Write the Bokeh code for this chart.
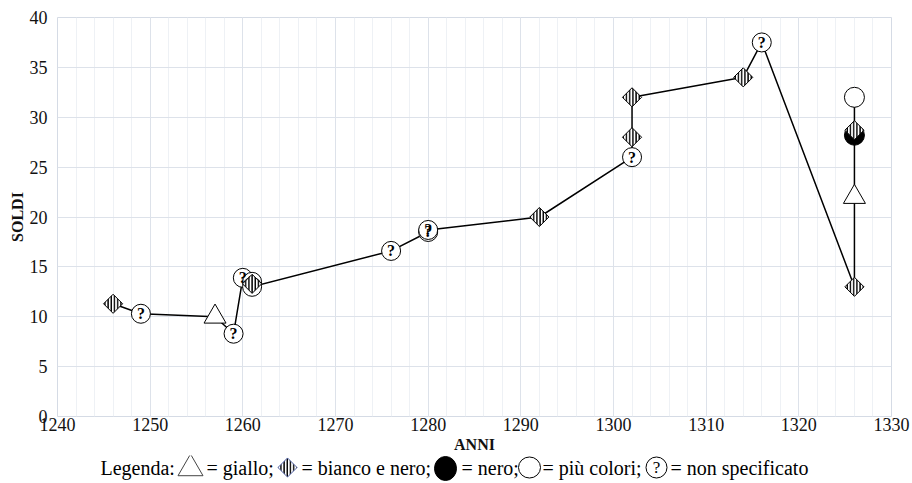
import numpy as np
from bokeh.plotting import figure
from bokeh.layouts import column
from bokeh.models import Range1d, SingleIntervalTicker, ColumnDataSource, CDSView, GroupFilter
from bokeh.core.properties import value
from bokeh.embed import file_html
from bokeh.resources import INLINE

# ---- data ----
anni = [1246, 1249, 1257, 1259, 1260, 1261, 1261, 1261, 1276, 1280, 1280, 1292,
        1302, 1302, 1302, 1314, 1316, 1326, 1326, 1326, 1326, 1326]
soldi = [11.3, 10.3, 10.0, 8.3, 13.9, 13.5, 13.3, 13.0, 16.6, 18.5, 18.7, 20.0,
         26.0, 28.0, 32.0, 34.0, 37.5, 13.0, 22.0, 28.2, 28.7, 32.0]
colore = ["bn", "ns", "giallo", "ns", "ns", "ns", "bn", "ns", "ns", "ns", "ns", "bn",
          "ns", "bn", "bn", "bn", "ns", "bn", "giallo", "nero", "bn", "pc"]
x_ticks_interval = 10
y_ticks_interval = 5
legend_labels = ["Legenda:", "= giallo;", "= bianco e nero;", "= nero;", "= più colori;", "= non specificato"]

SERIF = "Liberation Serif"
W = 910
BL, BR = 57, 19

src = ColumnDataSource(dict(anni=anni, soldi=soldi, colore=colore))

def view(g):
    return CDSView(filter=GroupFilter(column_name="colore", group=g))

p = figure(width=W, height=455, x_range=Range1d(1240, 1330), y_range=Range1d(0, 40),
           output_backend="svg", toolbar_location=None,
           min_border_left=BL, min_border_right=BR, min_border_top=17, min_border_bottom=38)

p.xaxis.ticker = SingleIntervalTicker(interval=x_ticks_interval, num_minor_ticks=5)
p.xgrid.ticker = SingleIntervalTicker(interval=x_ticks_interval, num_minor_ticks=5)
p.yaxis.ticker = SingleIntervalTicker(interval=y_ticks_interval, num_minor_ticks=0)
p.ygrid.ticker = SingleIntervalTicker(interval=y_ticks_interval, num_minor_ticks=0)

p.xgrid.grid_line_color = "#dde2ea"
p.xgrid.minor_grid_line_color = "#eef1f5"
p.ygrid.grid_line_color = "#dde2ea"
p.outline_line_color = "#d5dbe5"
p.background_fill_color = "white"
p.border_fill_color = "white"

for ax in (p.xaxis, p.yaxis):
    ax.axis_line_color = None
    ax.major_tick_line_color = None
    ax.minor_tick_line_color = None
    ax.major_tick_out = 0
    ax.major_tick_in = 0
    ax.minor_tick_out = 0
    ax.minor_tick_in = 0
    ax.major_label_text_font = SERIF
    ax.major_label_text_font_size = "18px"
    ax.major_label_text_color = "#111111"
    ax.axis_label_text_font = SERIF
    ax.axis_label_text_font_size = "16px"
    ax.axis_label_text_font_style = "bold"
    ax.axis_label_text_color = "#111111"

p.xaxis.axis_label = "ANNI"
p.yaxis.axis_label = "SOLDI"
p.xaxis.major_label_standoff = 1
p.xaxis.axis_label_standoff = 2
p.yaxis.major_label_standoff = 10
p.yaxis.axis_label_standoff = 1

# connecting line
p.line("anni", "soldi", source=src, line_color="black", line_width=1.5)

MARK = dict(line_color="black", line_width=1)

p.scatter("anni", "soldi", source=src, view=view("nero"), marker="circle", size=20,
          fill_color="black", **MARK)
p.scatter("anni", "soldi", source=src, view=view("giallo"), marker="triangle", size=22,
          fill_color="white", **MARK)
p.scatter("anni", "soldi", source=src, view=view("pc"), marker="circle", size=20,
          fill_color="white", **MARK)
p.scatter("anni", "soldi", source=src, view=view("ns"), marker="circle", size=19,
          fill_color="white", **MARK)
p.text("anni", "soldi", source=src, view=view("ns"), text=value("?"),
       text_font=value(SERIF), text_font_size="16px", text_font_style="bold",
       text_align="center", text_baseline="middle", text_color="black")
p.scatter("anni", "soldi", source=src, view=view("bn"), marker="square", size=13.5,
          angle=np.pi / 4, fill_color="white", hatch_pattern="vertical_line",
          hatch_color="black", hatch_scale=3.2, hatch_weight=1.6, **MARK)

# ---- legend strip ----
LH = 28
FW = W - BL - BR
leg = figure(width=W, height=LH, x_range=Range1d(0, FW), y_range=Range1d(0, LH),
             output_backend="svg", toolbar_location=None,
             x_axis_type=None, y_axis_type=None,
             min_border_left=BL, min_border_right=BR, min_border_top=0, min_border_bottom=0)
leg.grid.visible = False
leg.outline_line_color = None
leg.border_fill_color = "white"
leg.background_fill_color = "white"
ly = 16
text_x = [43, 149, 244, 404, 485, 613]
leg.text(x=text_x, y=[ly] * len(text_x), text=legend_labels,
         text_font=value(SERIF), text_font_size="20px", text_align="left",
         text_baseline="middle", text_color="black")
leg.scatter(x=[133], y=[ly - 1], marker="triangle", size=25, fill_color="white",
            line_color="#444444", line_width=1)
leg.scatter(x=[230], y=[ly], marker="square", size=13.5, angle=np.pi / 4, fill_color="white",
            hatch_pattern="vertical_line", hatch_color="black", hatch_scale=3.2,
            hatch_weight=1.6, line_color="#5566aa", line_width=1)
leg.ellipse(x=[388], y=[ly - 1], width=22, height=24, fill_color="black", line_color="black")
leg.ellipse(x=[472], y=[ly], width=22, height=21, fill_color="white", line_color="black",
            line_width=1)
leg.ellipse(x=[599], y=[ly], width=21, height=21, fill_color="white", line_color="black",
            line_width=1)
leg.text(x=[599], y=[ly], text=["?"], text_font=value(SERIF), text_font_size="17px",
         text_align="center", text_baseline="middle", text_color="black")

layout = column(p, leg, spacing=0)
open("out.html", "w").write(file_html(layout, INLINE))
